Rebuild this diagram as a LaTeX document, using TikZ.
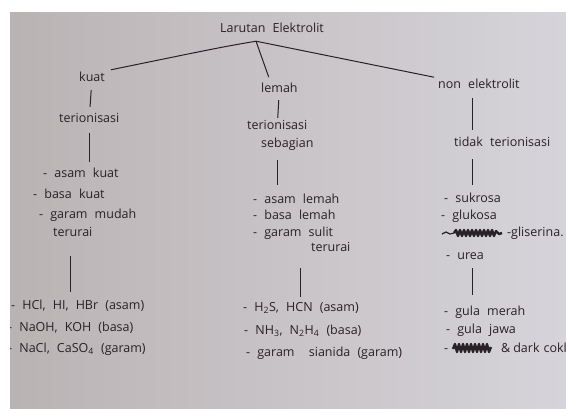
\documentclass[tikz,border=0pt]{standalone}
\usepackage{fontspec}
\newfontfamily\tangan{Open Sans}[WordSpace=2.2]
\usetikzlibrary{positioning}
\usetikzlibrary{calc}
\definecolor{tinta}{RGB}{40,33,38}
\definecolor{kertaskiri}{RGB}{186,179,180}
\definecolor{kertaskanan}{RGB}{214,212,218}
\tikzset{
  tulis/.style={font={\tangan\fontsize{12.5}{14}\selectfont}, text=tinta, inner sep=1pt, text height=9pt, text depth=3pt, anchor=base west},
  garis/.style={draw=tinta, line width=1pt, shorten <=5pt, shorten >=5pt},
  coret/.style={draw=tinta, line width=2.4pt, line join=round}
}

\begin{document}
\begin{tikzpicture}[x=1pt, y=-1pt]
    \useasboundingbox (0,0) rectangle (566,408);
    \fill [left color=kertaskiri, right color=kertaskanan] (10,12) rectangle (566,408);
    \begin{scope}
    \clip (10,12) rectangle (566,408);
    \node [tulis] (root) at (219,32) {Larutan Elektrolit};
    \coordinate [below=5pt of root.south, xshift=-16pt] (cabang);

    % kuat
    \node [tulis] (kuat) at (78,81) {kuat};
    \node [tulis] (kuat_ion) at (58,122) {terionisasi};
    \node [tulis] (kuat_s1) at (42,177) {- asam kuat};
    \node [tulis] (kuat_s2) at (32,198) {- basa kuat};
    \node [tulis] (kuat_s3) at (38,218) {- garam mudah};
    \node [tulis] (kuat_s4) at (52,236) {terurai};
    \node [tulis] (kuat_c1) at (10,309) {- HCl, HI, HBr (asam)};
    \node [tulis] (kuat_c2) at (7,331) {- NaOH, KOH (basa)};
    \node [tulis] (kuat_c3) at (7,352) {- NaCl, CaSO\textsubscript{4} (garam)};

    % lemah
    \node [tulis] (lemah) at (260,92) {lemah};
    \node [tulis] (lemah_ion1) at (246,129) {terionisasi};
    \node [tulis] (lemah_ion2) at (260,147) {sebagian};
    \node [tulis] (lemah_s1) at (252,203) {- asam lemah};
    \node [tulis] (lemah_s2) at (252,219) {- basa lemah};
    \node [tulis] (lemah_s3) at (252,236) {- garam sulit};
    \node [tulis] (lemah_s4) at (310,251) {terurai};
    \node [tulis] (lemah_c1) at (242,311) {- H\textsubscript{2}S, HCN (asam)};
    \node [tulis] (lemah_c2) at (243,334) {- NH\textsubscript{3}, N\textsubscript{2}H\textsubscript{4} (basa)};
    \node [tulis] (lemah_c3) at (245,356) {- garam \ sianida (garam)};

    % non elektrolit
    \node [tulis] (non_el) at (437,88) {non elektrolit};
    \node [tulis] (non_ion) at (453,146) {tidak terionisasi};
    \node [tulis] (non_s1) at (443,202) {- sukrosa};
    \node [tulis] (non_s2) at (440,219) {- glukosa};
    \node [tulis] (non_s3) at (506,236) {-gliserina.};
    \node [tulis] (non_s4) at (445,259) {- urea};
    \node [tulis] (non_c1) at (443,315) {- gula merah};
    \node [tulis] (non_c2) at (445,333) {- gula jawa};
    \node [tulis] (non_c3a) at (443,352) {-};
    \node [tulis] (non_c3) at (500,352) {\&\hspace{3pt}dark\hspace{4pt}coklat};
    \coordinate [below left=0pt and 6pt of non_el.south] (non_x);

    % cabang utama
    \draw [garis, shorten <=0pt] (cabang) .. controls (222,47) .. (kuat.north east);
    \draw [garis, shorten <=0pt] (cabang) -- ([xshift=-9pt]lemah.north);
    \draw [garis, shorten <=0pt, shorten >=3pt] (cabang) -- (non_el.north west);

    \draw [garis] (kuat) -- (kuat_ion);
    \draw [garis, shorten <=7pt] (kuat_ion) -- (kuat_ion |- kuat_s1.north);
    \draw [garis, shorten <=16pt, shorten >=7pt] (kuat_s4.south -| kuat_c2) -- (kuat_c2 |- kuat_c1.north);

    \draw [garis, shorten <=4pt, shorten >=1pt] (lemah) -- (lemah_ion1);
    \draw [garis, shorten <=9pt, shorten >=8pt] (lemah_ion2.south -| lemah_ion1) -- (lemah_ion1 |- lemah_s1.north);
    \draw [garis, shorten <=13pt, shorten >=4pt] (lemah_s4.south -| lemah_c1) -- (lemah_c1);

    \draw [garis, shorten <=6pt, shorten >=6pt] (non_x) -- (non_x |- non_ion.north);
    \draw [garis, shorten <=9pt, shorten >=7pt] (non_x |- non_ion.south) -- (non_x |- non_s1.north);
    \draw [garis, shorten <=5pt, shorten >=10pt] (non_x |- non_s4.south) -- (non_x |- non_c1.north);

    % coretan
    \draw [coret, line width=1.2pt] (442,234) -- (446,232) -- (450,234) -- (454,233);
    \draw [coret] (454,233) -- (456,230) -- (458,236) -- (460,230) -- (462,236) -- (464,230) -- (466,236) -- (468,230) -- (470,236) -- (472,230) -- (474,236) -- (476,230) -- (478,236) -- (480,230) -- (482,236) -- (484,230) -- (486,236) -- (488,230) -- (490,236) -- (492,230) -- (494,236) -- (496,231) -- (499,234) -- (502,233);
    \draw [coret] (453,349) -- (455,344) -- (457,352) -- (459,344) -- (461,352) -- (463,344) -- (465,352) -- (467,344) -- (469,352) -- (471,344) -- (473,352) -- (475,344) -- (477,352) -- (479,344) -- (481,352) -- (483,344) -- (485,352) -- (487,344) -- (489,352) -- (491,347);
    \end{scope}
\end{tikzpicture}
\end{document}
